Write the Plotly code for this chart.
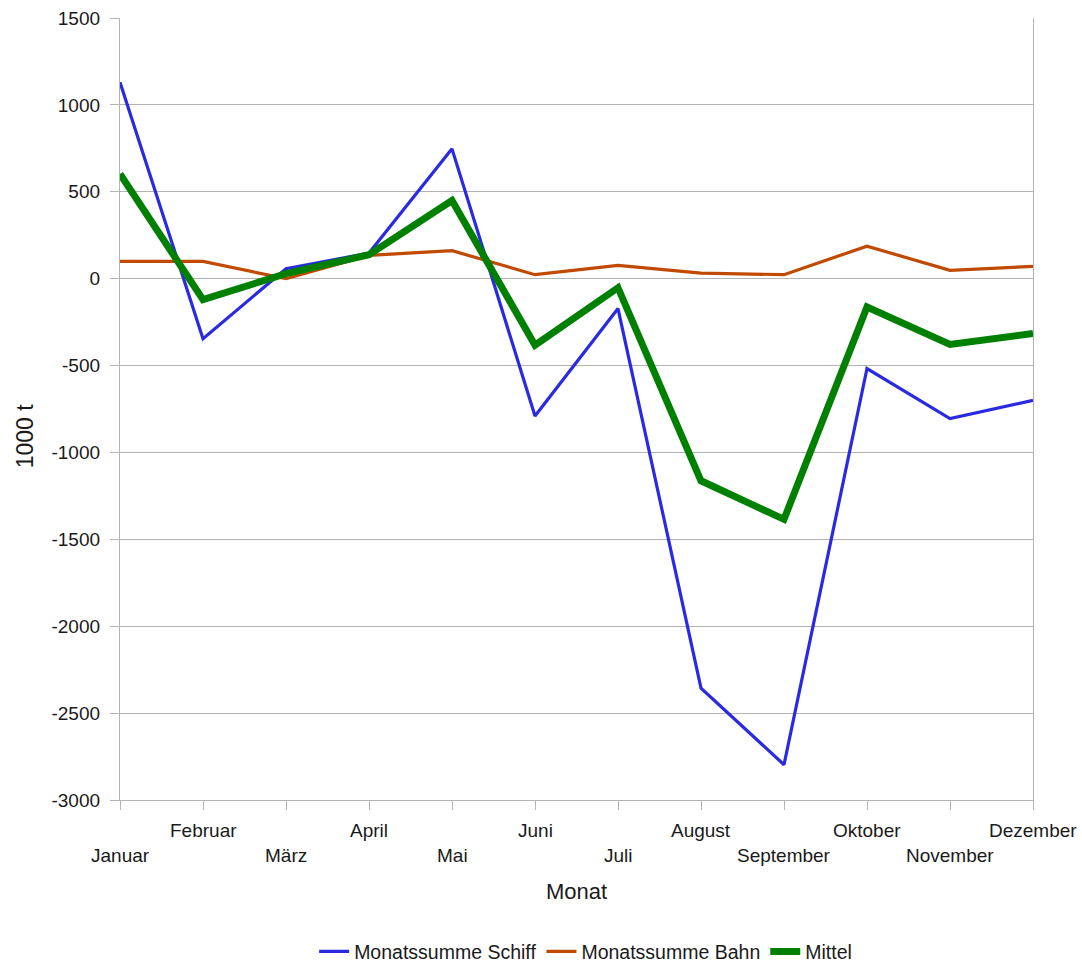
import plotly.graph_objects as go

# Monthly values in 1000 t
monate = ["Januar", "Februar", "März", "April", "Mai", "Juni",
          "Juli", "August", "September", "Oktober", "November", "Dezember"]
schiff = [1130, -345, 57, 147, 747, -790, -172, -2356, -2797, -517, -805, -700]
bahn = [99, 99, 0, 134, 161, 23, 76, 32, 23, 187, 48, 71]
mittel = [603, -121, 29, 138, 450, -383, -52, -1163, -1385, -163, -378, -316]

y_ticks = list(range(-3000, 1501, 500))
y_ticktext = [str(v) for v in y_ticks]

FONT = "Liberation Sans, Arial, sans-serif"
TXT = "#1a1a1a"
GRID = "#b3b3b3"

x_idx = list(range(len(monate)))

fig = go.Figure()
fig.add_trace(go.Scatter(x=x_idx, y=schiff, mode="lines", name="Monatssumme Schiff",
                         line=dict(color="#2a2ae0", width=3.2)))
fig.add_trace(go.Scatter(x=x_idx, y=bahn, mode="lines", name="Monatssumme Bahn",
                         line=dict(color="#c04a00", width=3.2)))
fig.add_trace(go.Scatter(x=x_idx, y=mittel, mode="lines", name="Mittel",
                         line=dict(color="#008000", width=7)))

# staggered month labels below the category axis
annotations = []
for i, m in enumerate(monate):
    annotations.append(dict(
        x=i, y=0, xref="x", yref="paper", text=m, showarrow=False,
        yanchor="middle", xanchor="center",
        yshift=-55 if i % 2 == 0 else -30,
        font=dict(family=FONT, size=19, color=TXT)))
annotations.append(dict(x=0.5, y=0, xref="paper", yref="paper", text="Monat",
                        showarrow=False, yanchor="middle", yshift=-91,
                        font=dict(family=FONT, size=22, color=TXT)))
annotations.append(dict(x=0, y=0.465, xref="paper", yref="paper", text="1000 t",
                        showarrow=False, textangle=-90, xanchor="center",
                        yanchor="middle", xshift=-95,
                        font=dict(family=FONT, size=23, color=TXT)))

fig.update_layout(
    width=1082, height=962,
    margin=dict(l=120, r=49, t=18, b=162, autoexpand=False),
    paper_bgcolor="white", plot_bgcolor="white",
    font=dict(family=FONT, size=19, color=TXT),
    showlegend=True,
    legend=dict(orientation="h", x=0.51, xanchor="center", y=-0.194, yanchor="middle",
                font=dict(family=FONT, size=19.5, color=TXT),
                itemwidth=30, tracegroupgap=0),
    annotations=annotations,
)
fig.update_xaxes(
    range=[0, len(monate) - 1], tickmode="array", tickvals=x_idx,
    showticklabels=False, ticks="outside", ticklen=9, tickcolor=GRID,
    showline=True, linecolor=GRID, linewidth=1.3, showgrid=False, zeroline=False,
    automargin=False,
)
fig.update_yaxes(
    range=[-3000, 1500], tickmode="array", tickvals=y_ticks, ticktext=y_ticktext,
    ticks="outside", ticklen=9, tickcolor=GRID, ticklabelstandoff=6,
    showline=True, linecolor=GRID, linewidth=1.3, mirror=True,
    showgrid=True, gridcolor=GRID, gridwidth=1.2, zeroline=False,
    tickfont=dict(family=FONT, size=19, color=TXT), automargin=False,
)

fig.write_html("out.html")
